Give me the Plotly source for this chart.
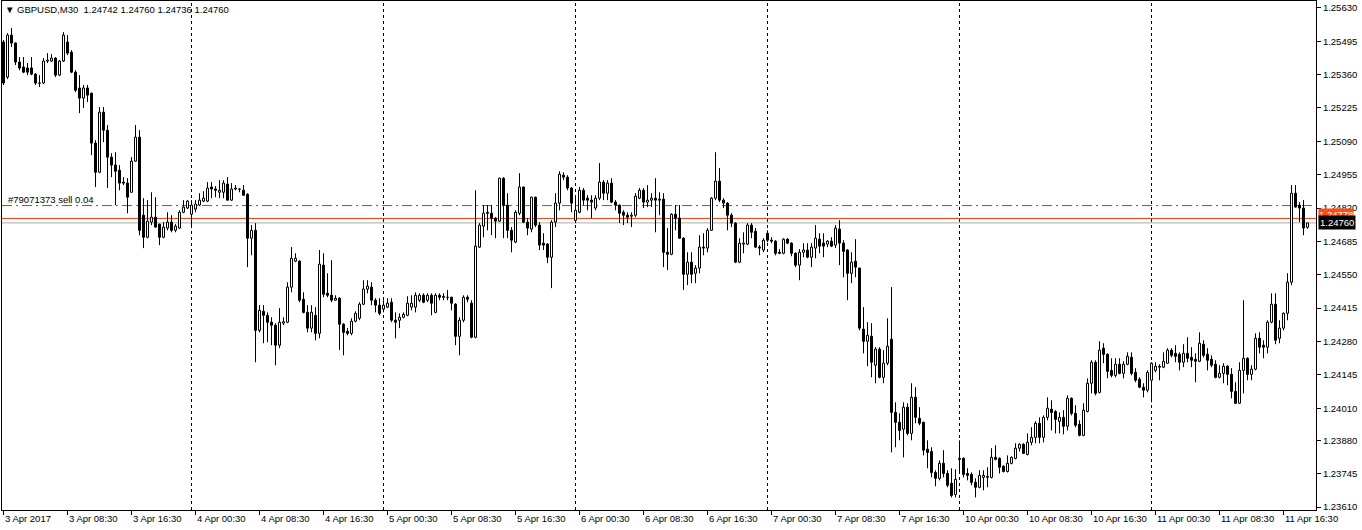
import plotly.graph_objects as go

SYMBOL = "GBPUSD,M30"

# bar number counted in trading time from 3 Apr 2017 00:00 (M30 bars)
BAR_INDEX = list(range(1, 328))

OPEN = [1.25492,1.25350,1.25520,1.25488,1.25411,1.25391,1.25387,1.25387,1.25362,1.25326,
1.25326,1.25415,1.25415,1.25427,1.25358,1.25415,1.25492,1.25451,1.25370,1.25306,
1.25265,1.25306,1.25285,1.25083,1.24965,1.25208,1.25135,1.25026,1.24994,1.24973,
1.24925,1.24921,1.24884,1.25010,1.25107,1.24791,1.24702,1.24763,1.24783,1.24755,
1.24702,1.24739,1.24763,1.24730,1.24739,1.24803,1.24820,1.24795,1.24816,1.24832,
1.24848,1.24848,1.24905,1.24897,1.24884,1.24884,1.24917,1.24852,1.24901,1.24897,
1.24892,1.24876,1.24698,1.24730,1.24325,1.24402,1.24386,1.24358,1.24346,1.24265,
1.24354,1.24358,1.24500,1.24605,1.24605,1.24451,1.24398,1.24334,1.24386,1.24313,
1.24589,1.24475,1.24467,1.24447,1.24455,1.24350,1.24321,1.24313,1.24362,1.24374,
1.24431,1.24492,1.24500,1.24447,1.24427,1.24411,1.24419,1.24439,1.24366,1.24366,
1.24378,1.24386,1.24419,1.24419,1.24447,1.24467,1.24447,1.24467,1.24398,1.24467,
1.24463,1.24459,1.24459,1.24431,1.24301,1.24366,1.24459,1.24435,1.24297,1.24662,
1.24747,1.24803,1.24799,1.24779,1.24767,1.24941,1.24832,1.24730,1.24682,1.24799,
1.24905,1.24763,1.24735,1.24864,1.24751,1.24678,1.24674,1.24621,1.24763,1.24840,
1.24953,1.24945,1.24901,1.24770,1.24803,1.24892,1.24860,1.24852,1.24820,1.24860,
1.24925,1.24880,1.24921,1.24844,1.24832,1.24803,1.24791,1.24787,1.24791,1.24860,
1.24892,1.24844,1.24852,1.24860,1.24852,1.24856,1.24641,1.24633,1.24795,1.24779,
1.24698,1.24552,1.24601,1.24556,1.24577,1.24662,1.24658,1.24730,1.24860,1.24929,
1.24852,1.24840,1.24791,1.24759,1.24601,1.24674,1.24674,1.24751,1.24726,1.24662,
1.24650,1.24718,1.24690,1.24686,1.24641,1.24637,1.24694,1.24678,1.24637,1.24589,
1.24641,1.24650,1.24621,1.24658,1.24694,1.24678,1.24674,1.24686,1.24670,1.24735,
1.24678,1.24650,1.24556,1.24605,1.24577,1.24330,1.24281,1.24301,1.24184,1.24249,
1.24135,1.24192,1.24289,1.23993,1.23953,1.23925,1.24014,1.23908,1.24054,1.23969,
1.23953,1.23844,1.23835,1.23750,1.23726,1.23787,1.23746,1.23706,1.23661,1.23807,
1.23807,1.23746,1.23742,1.23710,1.23690,1.23730,1.23730,1.23730,1.23811,1.23807,
1.23775,1.23754,1.23787,1.23807,1.23848,1.23864,1.23823,1.23872,1.23892,1.23949,
1.23892,1.23973,1.24006,1.23997,1.23957,1.23973,1.23937,1.24050,1.23989,1.23945,
1.23900,1.23997,1.24111,1.24196,1.24074,1.24253,1.24228,1.24163,1.24143,1.24188,
1.24151,1.24188,1.24216,1.24155,1.24127,1.24095,1.24083,1.24123,1.24163,1.24176,
1.24176,1.24192,1.24245,1.24232,1.24228,1.24196,1.24232,1.24216,1.24208,1.24200,
1.24269,1.24228,1.24208,1.24188,1.24135,1.24151,1.24180,1.24147,1.24078,1.24030,
1.24163,1.24212,1.24147,1.24168,1.24293,1.24265,1.24257,1.24358,1.24431,1.24293,
1.24334,1.24394,1.24520,1.24880,1.24832,1.24820,1.24742]

HIGH = [1.25500,1.25528,1.25549,1.25490,1.25431,1.25431,1.25407,1.25431,1.25366,1.25358,
1.25427,1.25447,1.25443,1.25431,1.25419,1.25532,1.25520,1.25459,1.25378,1.25358,
1.25318,1.25318,1.25287,1.25095,1.25229,1.25229,1.25156,1.25042,1.25046,1.24994,
1.24945,1.24941,1.25026,1.25156,1.25135,1.24860,1.24852,1.24884,1.24864,1.24757,
1.24763,1.24803,1.24791,1.24755,1.24811,1.24852,1.24852,1.24852,1.24852,1.24880,
1.24888,1.24925,1.24925,1.24909,1.24933,1.24933,1.24945,1.24921,1.24913,1.24901,
1.24913,1.24880,1.24751,1.24759,1.24427,1.24427,1.24398,1.24378,1.24354,1.24415,
1.24378,1.24520,1.24662,1.24637,1.24609,1.24479,1.24427,1.24427,1.24419,1.24650,
1.24637,1.24556,1.24609,1.24467,1.24459,1.24354,1.24334,1.24374,1.24402,1.24439,
1.24528,1.24528,1.24520,1.24455,1.24455,1.24447,1.24455,1.24455,1.24398,1.24394,
1.24398,1.24463,1.24467,1.24479,1.24475,1.24475,1.24475,1.24475,1.24475,1.24475,
1.24475,1.24488,1.24461,1.24435,1.24378,1.24467,1.24467,1.24447,1.24892,1.24759,
1.24832,1.24832,1.24832,1.24783,1.24943,1.24945,1.24880,1.24743,1.24811,1.24961,
1.24907,1.24779,1.24866,1.24866,1.24763,1.24718,1.24678,1.24771,1.24880,1.24969,
1.24965,1.24953,1.24905,1.24872,1.24905,1.24901,1.24872,1.24872,1.24872,1.25002,
1.24933,1.24933,1.24941,1.24852,1.24834,1.24811,1.24803,1.24803,1.24880,1.24901,
1.24901,1.24913,1.24880,1.24941,1.24884,1.24880,1.24739,1.24799,1.24832,1.24832,
1.24702,1.24641,1.24641,1.24589,1.24710,1.24718,1.24739,1.24864,1.25046,1.24982,
1.24860,1.24844,1.24799,1.24763,1.24698,1.24722,1.24759,1.24759,1.24739,1.24670,
1.24698,1.24730,1.24702,1.24690,1.24654,1.24698,1.24698,1.24682,1.24641,1.24654,
1.24678,1.24678,1.24678,1.24751,1.24718,1.24718,1.24690,1.24702,1.24751,1.24771,
1.24690,1.24654,1.24641,1.24694,1.24579,1.24419,1.24358,1.24354,1.24257,1.24257,
1.24245,1.24374,1.24500,1.24034,1.23989,1.24034,1.24030,1.24111,1.24095,1.24014,
1.23955,1.23880,1.23852,1.23759,1.23799,1.23840,1.23759,1.23767,1.23763,1.23880,
1.23811,1.23767,1.23750,1.23726,1.23759,1.23759,1.23771,1.23848,1.23860,1.23811,
1.23779,1.23819,1.23815,1.23868,1.23868,1.23868,1.23908,1.23933,1.23957,1.23973,
1.23981,1.24054,1.24042,1.24002,1.23993,1.24002,1.24062,1.24054,1.24022,1.23961,
1.24030,1.24131,1.24204,1.24204,1.24281,1.24273,1.24232,1.24212,1.24212,1.24212,
1.24200,1.24236,1.24236,1.24172,1.24135,1.24111,1.24163,1.24196,1.24196,1.24188,
1.24236,1.24253,1.24253,1.24265,1.24236,1.24269,1.24297,1.24257,1.24232,1.24317,
1.24285,1.24253,1.24224,1.24204,1.24184,1.24192,1.24184,1.24172,1.24115,1.24196,
1.24447,1.24216,1.24184,1.24313,1.24317,1.24285,1.24366,1.24475,1.24475,1.24366,
1.24398,1.24556,1.24913,1.24913,1.24844,1.24852,1.24760]

LOW = [1.25318,1.25342,1.25472,1.25399,1.25378,1.25366,1.25358,1.25358,1.25318,1.25310,
1.25322,1.25407,1.25411,1.25350,1.25354,1.25411,1.25439,1.25366,1.25289,1.25204,
1.25225,1.25249,1.25034,1.24905,1.24961,1.25087,1.24901,1.24945,1.24832,1.24892,
1.24913,1.24799,1.24882,1.25008,1.24710,1.24658,1.24698,1.24751,1.24741,1.24670,
1.24698,1.24730,1.24722,1.24722,1.24735,1.24799,1.24816,1.24751,1.24803,1.24828,
1.24844,1.24844,1.24860,1.24864,1.24860,1.24860,1.24850,1.24850,1.24892,1.24884,
1.24870,1.24581,1.24629,1.24196,1.24317,1.24273,1.24277,1.24265,1.24184,1.24253,
1.24346,1.24354,1.24479,1.24601,1.24439,1.24394,1.24317,1.24317,1.24285,1.24293,
1.24459,1.24459,1.24439,1.24445,1.24245,1.24224,1.24305,1.24305,1.24358,1.24366,
1.24427,1.24475,1.24427,1.24398,1.24386,1.24398,1.24415,1.24358,1.24293,1.24334,
1.24374,1.24382,1.24406,1.24398,1.24439,1.24435,1.24439,1.24386,1.24394,1.24447,
1.24447,1.24447,1.24406,1.24265,1.24224,1.24358,1.24439,1.24293,1.24293,1.24658,
1.24702,1.24730,1.24710,1.24698,1.24763,1.24698,1.24698,1.24641,1.24678,1.24791,
1.24759,1.24710,1.24722,1.24743,1.24650,1.24650,1.24597,1.24496,1.24743,1.24811,
1.24933,1.24892,1.24803,1.24759,1.24799,1.24832,1.24811,1.24779,1.24811,1.24852,
1.24852,1.24852,1.24840,1.24811,1.24759,1.24751,1.24759,1.24743,1.24783,1.24856,
1.24820,1.24824,1.24824,1.24722,1.24791,1.24581,1.24569,1.24629,1.24730,1.24696,
1.24488,1.24508,1.24516,1.24516,1.24556,1.24629,1.24641,1.24728,1.24852,1.24844,
1.24820,1.24730,1.24743,1.24597,1.24597,1.24637,1.24670,1.24698,1.24658,1.24629,
1.24641,1.24682,1.24678,1.24629,1.24633,1.24633,1.24674,1.24625,1.24581,1.24528,
1.24621,1.24617,1.24581,1.24617,1.24637,1.24621,1.24662,1.24662,1.24658,1.24589,
1.24540,1.24447,1.24516,1.24540,1.24325,1.24232,1.24180,1.24135,1.24111,1.24131,
1.24111,1.24184,1.23831,1.23852,1.23880,1.23811,1.23900,1.23880,1.23949,1.23941,
1.23819,1.23767,1.23730,1.23694,1.23718,1.23730,1.23690,1.23649,1.23649,1.23746,
1.23730,1.23718,1.23698,1.23649,1.23686,1.23678,1.23690,1.23726,1.23799,1.23746,
1.23750,1.23750,1.23783,1.23803,1.23835,1.23825,1.23819,1.23860,1.23868,1.23868,
1.23872,1.23961,1.23920,1.23908,1.23908,1.23904,1.23920,1.23981,1.23933,1.23896,
1.23896,1.23993,1.24070,1.24062,1.24070,1.24192,1.24131,1.24135,1.24135,1.24147,
1.24131,1.24184,1.24143,1.24115,1.24091,1.24054,1.24074,1.24034,1.24155,1.24123,
1.24172,1.24190,1.24216,1.24196,1.24163,1.24176,1.24196,1.24176,1.24115,1.24196,
1.24216,1.24163,1.24176,1.24131,1.24131,1.24111,1.24103,1.24050,1.24028,1.24028,
1.24070,1.24123,1.24123,1.24163,1.24232,1.24212,1.24232,1.24354,1.24269,1.24273,
1.24325,1.24366,1.24508,1.24822,1.24763,1.24710,1.24736]

CLOSE = [1.25326,1.25520,1.25488,1.25411,1.25387,1.25370,1.25370,1.25362,1.25326,1.25325,
1.25415,1.25419,1.25427,1.25358,1.25415,1.25520,1.25447,1.25370,1.25297,1.25265,
1.25306,1.25277,1.25083,1.24965,1.25208,1.25135,1.25026,1.24994,1.24969,1.24921,
1.24921,1.24864,1.25010,1.25107,1.24730,1.24702,1.24767,1.24783,1.24743,1.24702,
1.24743,1.24763,1.24730,1.24747,1.24803,1.24824,1.24848,1.24832,1.24836,1.24852,
1.24860,1.24901,1.24897,1.24892,1.24892,1.24921,1.24852,1.24897,1.24897,1.24896,
1.24872,1.24698,1.24730,1.24325,1.24406,1.24386,1.24358,1.24346,1.24265,1.24358,
1.24360,1.24500,1.24617,1.24617,1.24447,1.24398,1.24334,1.24398,1.24313,1.24593,
1.24471,1.24467,1.24447,1.24455,1.24350,1.24317,1.24313,1.24362,1.24394,1.24431,
1.24492,1.24504,1.24447,1.24427,1.24394,1.24427,1.24435,1.24366,1.24358,1.24378,
1.24390,1.24435,1.24435,1.24467,1.24467,1.24439,1.24467,1.24435,1.24467,1.24459,
1.24459,1.24458,1.24435,1.24301,1.24366,1.24459,1.24451,1.24297,1.24666,1.24751,
1.24799,1.24799,1.24779,1.24767,1.24941,1.24832,1.24730,1.24690,1.24803,1.24905,
1.24763,1.24739,1.24864,1.24751,1.24670,1.24670,1.24621,1.24763,1.24840,1.24957,
1.24945,1.24901,1.24840,1.24811,1.24892,1.24852,1.24852,1.24844,1.24860,1.24925,
1.24880,1.24921,1.24844,1.24832,1.24799,1.24791,1.24783,1.24791,1.24868,1.24892,
1.24844,1.24852,1.24860,1.24852,1.24856,1.24641,1.24633,1.24795,1.24779,1.24698,
1.24552,1.24601,1.24552,1.24577,1.24662,1.24658,1.24730,1.24860,1.24929,1.24852,
1.24840,1.24791,1.24759,1.24601,1.24678,1.24678,1.24751,1.24722,1.24662,1.24658,
1.24690,1.24690,1.24686,1.24637,1.24637,1.24694,1.24678,1.24637,1.24589,1.24641,
1.24650,1.24621,1.24662,1.24698,1.24666,1.24666,1.24686,1.24666,1.24739,1.24678,
1.24645,1.24556,1.24601,1.24581,1.24334,1.24281,1.24305,1.24196,1.24249,1.24135,
1.24192,1.24261,1.23993,1.23953,1.23920,1.24014,1.23908,1.24054,1.23973,1.23949,
1.23840,1.23831,1.23750,1.23726,1.23787,1.23746,1.23698,1.23657,1.23722,1.23803,
1.23742,1.23738,1.23710,1.23690,1.23738,1.23738,1.23734,1.23811,1.23803,1.23771,
1.23754,1.23787,1.23811,1.23848,1.23864,1.23827,1.23872,1.23892,1.23949,1.23892,
1.23973,1.24010,1.23993,1.23965,1.23973,1.23937,1.24050,1.23989,1.23941,1.23900,
1.24002,1.24111,1.24196,1.24070,1.24245,1.24228,1.24159,1.24143,1.24188,1.24151,
1.24188,1.24220,1.24151,1.24123,1.24095,1.24083,1.24155,1.24192,1.24180,1.24180,
1.24200,1.24245,1.24224,1.24220,1.24196,1.24232,1.24212,1.24204,1.24200,1.24273,
1.24224,1.24204,1.24184,1.24135,1.24151,1.24180,1.24147,1.24078,1.24030,1.24163,
1.24212,1.24147,1.24168,1.24293,1.24257,1.24257,1.24358,1.24431,1.24285,1.24334,
1.24394,1.24520,1.24880,1.24824,1.24820,1.24739,1.24760]

PRICE_TICKS = [1.25630, 1.25495, 1.25360, 1.25225, 1.25090, 1.24955, 1.24820, 1.24685,
               1.24550, 1.24415, 1.24280, 1.24145, 1.24010, 1.23880, 1.23745, 1.23610]

TIME_LABELS = ["3 Apr 2017", "3 Apr 08:30", "3 Apr 16:30", "4 Apr 00:30", "4 Apr 08:30",
               "4 Apr 16:30", "5 Apr 00:30", "5 Apr 08:30", "5 Apr 16:30", "6 Apr 00:30",
               "6 Apr 08:30", "6 Apr 16:30", "7 Apr 00:30", "7 Apr 08:30", "7 Apr 16:30",
               "10 Apr 00:30", "10 Apr 08:30", "10 Apr 16:30", "11 Apr 00:30", "11 Apr 08:30",
               "11 Apr 16:30"]
TIME_LABEL_BARS = [1, 17, 33, 49, 65, 81, 97, 113, 129, 145, 161, 177, 193, 209, 225,
                   241, 257, 273, 289, 305, 321]
DAY_SEPARATOR_BARS = [48, 96, 144, 192, 240, 288]

ORDER_PRICE = 1.24830
ORDER_TEXT = "#79071373 sell 0.04"
BID = 1.24760
ASK = 1.24778

FONT = "Liberation Sans"
FS = 9.5

# candle geometry derived from OHLC
body_base = [min(o, c) for o, c in zip(OPEN, CLOSE)]
body_top = [max(o, c) for o, c in zip(OPEN, CLOSE)]
body_h = [max(t - b, 0.00001) for t, b in zip(body_top, body_base)]
body_col = ["white" if c >= o else "black" for o, c in zip(OPEN, CLOSE)]

wx, wy = [], []
for k, h, l, t, b in zip(BAR_INDEX, HIGH, LOW, body_top, body_base):
    if h > t:
        wx += [k, k, None]
        wy += [h, t, None]
    if l < b:
        wx += [k, k, None]
        wy += [b, l, None]

fig = go.Figure()
fig.add_trace(go.Scatter(x=wx, y=wy, mode="lines", line=dict(color="black", width=1),
                         hoverinfo="skip", showlegend=False))
fig.add_trace(go.Bar(x=BAR_INDEX, y=body_h, base=body_base, width=0.5,
                     marker=dict(color=body_col, line=dict(color="black", width=1)),
                     hoverinfo="skip", showlegend=False))

shapes = []
for b in DAY_SEPARATOR_BARS:
    shapes.append(dict(type="line", xref="x", yref="paper", x0=b, x1=b, y0=0, y1=1,
                       line=dict(color="black", width=1, dash="3px,3px"), layer="below"))
shapes.append(dict(type="line", xref="paper", yref="y", x0=0, x1=1, y0=ORDER_PRICE, y1=ORDER_PRICE,
                   line=dict(color="#00A000", width=1, dash="10px,4px,2px,4px"), layer="below"))
shapes.append(dict(type="line", xref="paper", yref="y", x0=0, x1=1, y0=ASK, y1=ASK,
                   line=dict(color="#F03C14", width=1), layer="below"))
shapes.append(dict(type="line", xref="paper", yref="y", x0=0, x1=1, y0=BID, y1=BID,
                   line=dict(color="#A0B0A0", width=1), layer="below"))

annotations = []
for lbl, b in zip(TIME_LABELS, TIME_LABEL_BARS):
    annotations.append(dict(x=b, y=0, xref="x", yref="paper", text=lbl, showarrow=False,
                            xanchor="left", yanchor="top", xshift=-1, yshift=-1,
                            font=dict(family=FONT, size=FS, color="black")))
title_text = "▼ " + SYMBOL + "\u00a0\u00a0" + " ".join(f"{v:.5f}" for v in (OPEN[-1], HIGH[-1], LOW[-1], CLOSE[-1]))
annotations.append(dict(x=0, y=1, xref="paper", yref="paper", text=title_text, showarrow=False,
                        xanchor="left", yanchor="top", xshift=1, yshift=-1,
                        font=dict(family=FONT, size=FS, color="black")))
annotations.append(dict(x=0, y=ORDER_PRICE, xref="paper", yref="y", text=ORDER_TEXT, showarrow=False,
                        xanchor="left", yanchor="bottom", xshift=4, yshift=-1,
                        font=dict(family=FONT, size=FS, color="black")))
annotations.append(dict(x=1, y=ASK, xref="paper", yref="y", text=f"{ASK:.5f}", showarrow=False,
                        xanchor="left", yanchor="middle", xshift=2, yshift=4,
                        bgcolor="#FF4A12", font=dict(family=FONT, size=FS, color="white"),
                        borderpad=0))
annotations.append(dict(x=1, y=BID, xref="paper", yref="y", text=f"{BID:.5f}", showarrow=False,
                        xanchor="left", yanchor="middle", xshift=2, yshift=0,
                        bgcolor="black", font=dict(family=FONT, size=FS, color="white"),
                        borderpad=1))

fig.update_layout(
    width=1362, height=530,
    margin=dict(l=2, r=46, t=1, b=20),
    paper_bgcolor="white", plot_bgcolor="white",
    showlegend=False, barmode="overlay",
    shapes=shapes, annotations=annotations,
    xaxis=dict(range=[0.625, 329.125], showgrid=False, zeroline=False,
               showline=True, linecolor="black", linewidth=1, mirror=True,
               ticks="outside", tickvals=TIME_LABEL_BARS, ticklen=4, tickcolor="black",
               showticklabels=False, fixedrange=True),
    yaxis=dict(range=[1.23598, 1.25658], side="right", showgrid=False, zeroline=False,
               showline=True, linecolor="black", linewidth=1, mirror=True,
               ticks="outside", tickvals=PRICE_TICKS, ticktext=[f"{p:.5f}" for p in PRICE_TICKS],
               ticklen=4, tickcolor="black", ticklabeloverflow="allow",
               tickfont=dict(family=FONT, size=FS, color="black"), fixedrange=True),
)

fig.write_html("out.html", config={"displayModeBar": False},
               post_script="document.body.style.margin='0px';document.body.style.padding='0px';")
